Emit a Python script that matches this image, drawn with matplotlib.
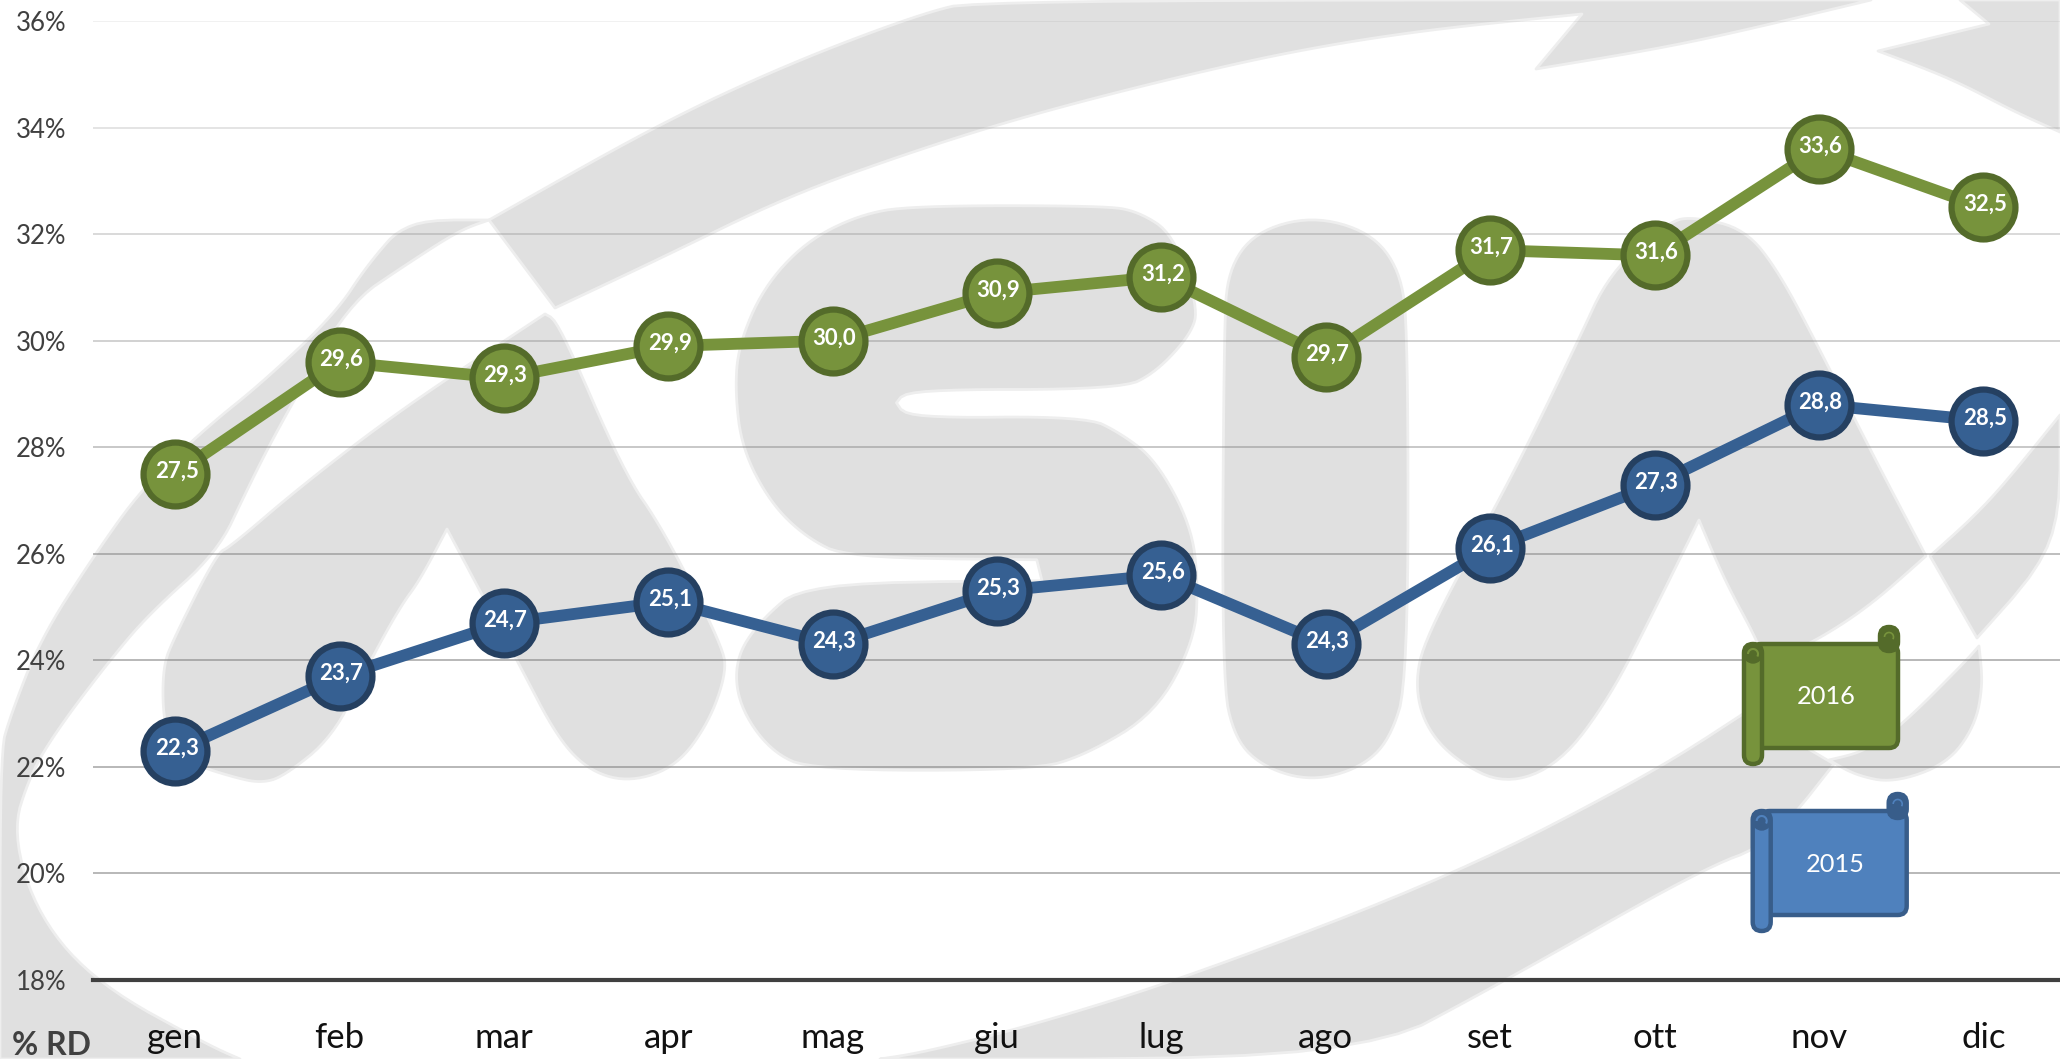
import math
import matplotlib
matplotlib.use('Agg')
import matplotlib.pyplot as plt
from matplotlib.patches import Polygon, FancyBboxPatch, Arc, Circle

plt.rcParams['font.family'] = ['Lato', 'DejaVu Sans']

months = ['gen', 'feb', 'mar', 'apr', 'mag', 'giu', 'lug', 'ago', 'set', 'ott', 'nov', 'dic']
rd_2015 = [22.3, 23.7, 24.7, 25.1, 24.3, 25.3, 25.6, 24.3, 26.1, 27.3, 28.8, 28.5]
rd_2016 = [27.5, 29.6, 29.3, 29.9, 30.0, 30.9, 31.2, 29.7, 31.7, 31.6, 33.6, 32.5]
y_ticks = [18, 20, 22, 24, 26, 28, 30, 32, 34, 36]
# gridlines fade out towards the top
grid_alpha = [1, 0.65, 0.65, 0.65, 0.6, 0.5, 0.42, 0.35, 0.25, 0.13]

W, H = 2060, 1059
fig = plt.figure(figsize=(W / 100, H / 100), dpi=100, facecolor='white')


def smooth(points, rounds=3, max_turn=60):
    # cut the soft corners of a closed outline, sharp ones stay sharp
    for _ in range(rounds):
        out = []
        n = len(points)
        for i in range(n):
            px, py = points[i - 1]
            cx, cy = points[i]
            nx, ny = points[(i + 1) % n]
            a1 = math.atan2(cy - py, cx - px)
            a2 = math.atan2(ny - cy, nx - cx)
            turn = abs((a2 - a1 + math.pi) % (2 * math.pi) - math.pi)
            if math.degrees(turn) < max_turn:
                out.append((cx + (px - cx) * 0.25, cy + (py - cy) * 0.25))
                out.append((cx + (nx - cx) * 0.25, cy + (ny - cy) * 0.25))
            else:
                out.append((cx, cy))
        points = out
    return points


# watermark logo, in pixel coordinates
bg = fig.add_axes([0, 0, 1, 1], zorder=0)
bg.set_xlim(0, W)
bg.set_ylim(H, 0)
bg.axis('off')

s_zoom = [(590, 495), (1200, 495), (1300, 450), (1400, 350), (1420, 280), (1350, 90), (1250, 30), (1150, 15),
          (600, 15), (450, 40), (300, 110), (180, 230), (110, 380), (100, 500), (120, 650), (200, 790), (300, 880),
          (420, 935), (960, 940), (975, 995), (300, 1000), (170, 1100), (100, 1200), (110, 1320), (200, 1440),
          (320, 1490), (950, 1490), (1100, 1450), (1300, 1340), (1410, 1150), (1420, 1000), (1400, 850), (1300, 680),
          (1200, 610), (1100, 565), (590, 570), (560, 530)]
logo_s = [(700 + x * 0.3508, 200 + y * 0.3827) for x, y in s_zoom]

logo_parts = [
    # top swoosh
    [(489, 220), (657, 125), (788, 64), (920, 14), (979, 0), (1871, 0), (1687, 44), (1536, 69), (1582, 14),
     (1424, 30), (1293, 51), (1161, 81), (1030, 115), (920, 149), (788, 196), (657, 260), (555, 308)],
    # top right corner
    [(1878, 51), (1989, 24), (1960, 0), (2060, 0), (2060, 132), (2015, 112), (1950, 78)],
    # left swoosh
    [(407, 220), (368, 264), (335, 314), (263, 382), (207, 427), (143, 487), (93, 557), (40, 640), (10, 717),
     (0, 753), (0, 1059), (240, 1059), (210, 1046), (99, 985), (39, 918), (12, 833), (30, 775), (57, 730),
     (110, 660), (150, 613), (217, 553), (247, 490), (267, 450), (287, 413), (348, 304), (407, 264), (460, 230),
     (489, 220)],
    # first A
    [(217, 553), (230, 547), (300, 487), (400, 410), (545, 314), (558, 321), (624, 473), (663, 529), (723, 647),
     (726, 674), (709, 722), (677, 766), (631, 782), (591, 772), (558, 739), (519, 664), (447, 529), (420, 580),
     (400, 607), (367, 667), (333, 737), (283, 777), (260, 783), (233, 777), (195, 765), (172, 745), (163, 717),
     (163, 667), (173, 640)],
    logo_s,
    # I
    [(1312, 216), (1370, 232), (1400, 270), (1408, 330), (1408, 680), (1390, 740), (1360, 768), (1312, 781),
     (1265, 768), (1235, 740), (1222, 680), (1224, 330), (1228, 270), (1255, 232)],
    # second A
    [(1695, 217), (1745, 229), (1779, 272), (1821, 352), (1876, 461), (1926, 556), (1872, 604), (1821, 638),
     (1765, 665), (1758, 642), (1724, 579), (1699, 520), (1653, 613), (1610, 697), (1560, 764), (1505, 785),
     (1455, 760), (1425, 726), (1415, 684), (1425, 638), (1493, 511), (1526, 448), (1577, 343), (1610, 272),
     (1669, 221)],
    # right band
    [(1930, 556), (1989, 503), (2060, 415), (2060, 545), (1977, 638)],
    # second A, right leg
    [(1964, 663), (1979, 646), (1983, 684), (1975, 726), (1947, 764), (1893, 783), (1855, 775), (1829, 760),
     (1863, 752), (1901, 726)],
    # bottom swoosh
    [(880, 1059), (920, 1053), (1030, 1026), (1194, 975), (1457, 874), (1654, 772), (1746, 712), (1834, 764),
     (1772, 843), (1700, 870), (1503, 982), (1358, 1059)],
]
for part in logo_parts:
    bg.add_patch(Polygon(smooth(part), closed=True, facecolor='#e0e0e0', edgecolor='#eeeeee', linewidth=2,
                         joinstyle='round'))

# the chart itself
ax = fig.add_axes([93 / W, 1 - 980 / H, (W - 93) / W, (980 - 21) / H], zorder=1)
ax.patch.set_alpha(0)
ax.set_xlim(-0.5, 11.466)
ax.set_ylim(18, 36)
x = range(len(months))

ax.set_xticks(list(x))
ax.set_xticklabels(months, fontsize=25, color='#111111')
ax.set_yticks(y_ticks)
ax.set_yticklabels([str(t) + '%' for t in y_ticks], fontsize=18.5, color='#404040')
ax.tick_params(axis='x', length=0, pad=30)
ax.tick_params(axis='y', length=0, pad=19)
for side in ['top', 'right', 'left']:
    ax.spines[side].set_visible(False)
ax.spines['bottom'].set_linewidth(3)
ax.spines['bottom'].set_color('#404040')

for t, a in zip(y_ticks[1:], grid_alpha[1:]):
    ax.axhline(t, color='#808080', alpha=a, linewidth=1.2, zorder=1)

series = [(rd_2015, '#366092', '#254061'), (rd_2016, '#77933c', '#546b2a')]
for values, col, dark in series:
    ax.plot(x, values, color=col, linewidth=8.5, marker='o', markersize=46, markerfacecolor=col,
            markeredgecolor=dark, markeredgewidth=4.5, zorder=3, solid_joinstyle='round')
    for i, v in zip(x, values):
        ax.annotate(f'{v:.1f}'.replace('.', ','), (i, v), xytext=(1, 2), textcoords='offset points',
                    ha='center', va='center', color='white', fontsize=16, fontweight='bold', zorder=4)

fig.text(12 / W, 1 - 1055 / H, '% RD', fontsize=23, fontweight='bold', color='#404040', ha='left', va='baseline',
         zorder=5)

# scroll shaped legend boxes, also in pixels
top = fig.add_axes([0, 0, 1, 1], zorder=3)
top.set_xlim(0, W)
top.set_ylim(H, 0)
top.axis('off')
top.patch.set_alpha(0)


def scroll(dx, dy, fill, edge, label):
    lw = 3.2
    # main sheet
    top.add_patch(FancyBboxPatch((1752 + dx, 644 + dy), 146, 104, boxstyle='round,pad=0,rounding_size=9',
                                 facecolor=fill, edgecolor=edge, linewidth=lw, zorder=2))
    # top right curl
    top.add_patch(FancyBboxPatch((1880 + dx, 627 + dy), 18, 24, boxstyle='round,pad=0,rounding_size=9',
                                 facecolor=edge, edgecolor=edge, linewidth=lw, zorder=3))
    top.add_patch(Arc((1889 + dx, 637 + dy), 9, 9, theta1=180, theta2=30, color=fill, linewidth=1.2, zorder=4))
    # left roller
    top.add_patch(FancyBboxPatch((1744 + dx, 644 + dy), 18, 120, boxstyle='round,pad=0,rounding_size=9',
                                 facecolor=fill, edgecolor=edge, linewidth=lw, zorder=3))
    top.add_patch(Circle((1753 + dx, 654 + dy), 9, facecolor=edge, edgecolor=edge, zorder=4))
    top.add_patch(Arc((1753 + dx, 654 + dy), 10, 10, theta1=180, theta2=30, color=fill, linewidth=1.5, zorder=5))
    top.text(1826 + dx, 697 + dy, label, color='white', fontsize=18.3, ha='center', va='center', zorder=6)


scroll(0, 0, '#77933c', '#546b2a', '2016')
scroll(8.7, 167, '#4f81bd', '#385d8a', '2015')

fig.savefig('out.png', dpi=100)
